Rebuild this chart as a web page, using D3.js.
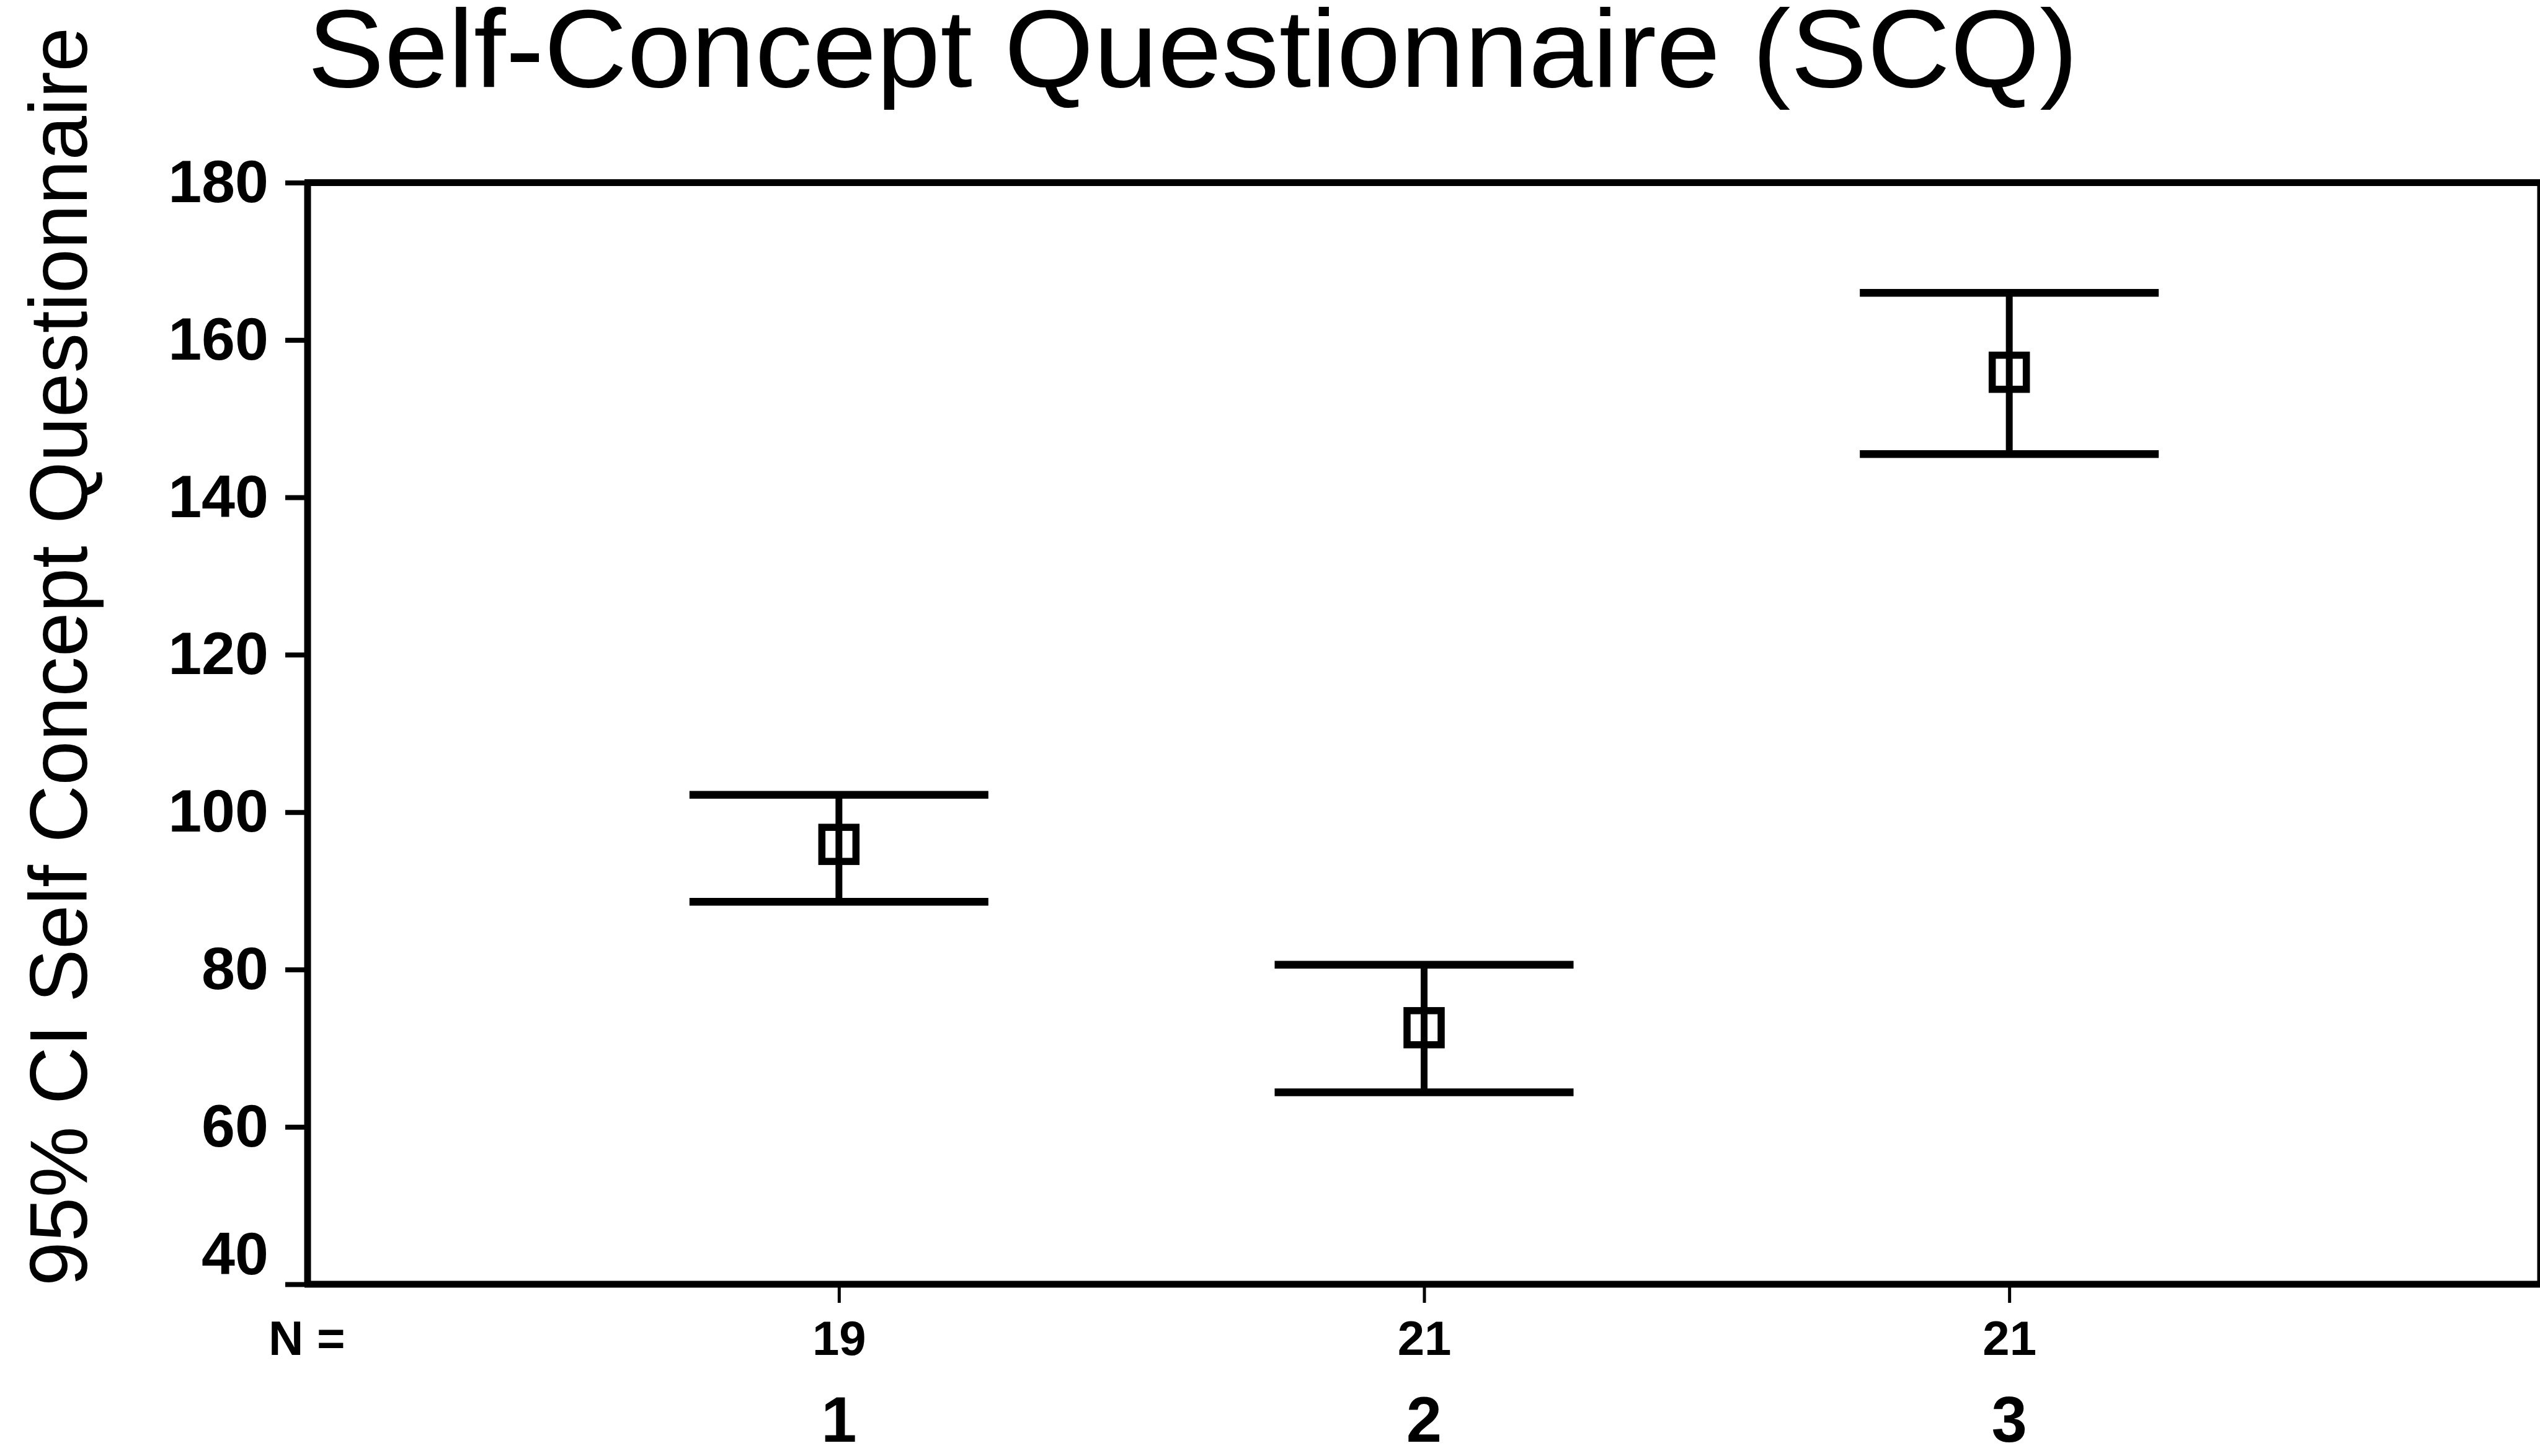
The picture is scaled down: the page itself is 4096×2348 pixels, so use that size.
<!DOCTYPE html>
<html>
<head>
<meta charset="utf-8">
<script src="https://cdn.jsdelivr.net/npm/d3@7"></script>
<style>
  html, body { margin: 0; padding: 0; background: #fff; }
  svg { display: block; }
  text { font-family: "Liberation Sans", Arial, sans-serif; fill: #000; }
</style>
</head>
<body>
<div id="chart"></div>
<script>
// values
const groups = ['1', '2', '3'];
const nCounts = [19, 21, 21];
const means = [95.9, 72.6, 155.9];
const lower = [88.6, 64.4, 145.5];
const upper = [102.2, 80.6, 166.0];
const yTicks = [40, 60, 80, 100, 120, 140, 160, 180];

const width = 4096;
const height = 2348;
const margin = {top: 294.5, right: 4097, bottom: 2071, left: 496};

const svg = d3.select('#chart')
  .append('svg')
    .attr('width', width)
    .attr('height', height);

const x = d3.scalePoint()
  .domain(groups)
  .range([margin.left, margin.right])
  .padding(0.908);

const y = d3.scaleLinear()
  .domain([40, 180])
  .range([margin.bottom, margin.top]);

// title
svg.append('text')
  .attr('x', margin.left)
  .attr('y', 140)
  .attr('font-size', 178)
  .attr('textLength', 2855)
  .attr('lengthAdjust', 'spacingAndGlyphs')
  .text('Self-Concept Questionnaire (SCQ)');

// y axis title
svg.append('text')
  .attr('transform', 'translate(140,1059) rotate(-90)')
  .attr('text-anchor', 'middle')
  .attr('font-size', 132)
  .attr('textLength', 2030)
  .attr('lengthAdjust', 'spacingAndGlyphs')
  .text('95% CI Self Concept Questionnaire');

// y axis
const yAxis = svg.append('g')
  .attr('transform', `translate(${margin.left},0)`)
  .call(d3.axisLeft(y).tickValues(yTicks).tickSize(36).tickPadding(27));
yAxis.select('.domain').remove();
yAxis.selectAll('.tick line').attr('stroke', '#000').attr('stroke-width', 8);
yAxis.selectAll('.tick text')
  .attr('font-size', 97)
  .attr('font-weight', 'bold')
  .attr('font-family', '"Liberation Sans", Arial, sans-serif')
  .attr('fill', '#000');
// lowest label sits above the bottom line
yAxis.selectAll('.tick text').filter(d => d === 40).attr('y', -48);

// x axis with N counts
const xAxis = svg.append('g')
  .attr('transform', `translate(0,${margin.bottom})`)
  .call(d3.axisBottom(x).tickSize(30).tickPadding(29).tickFormat((d, i) => nCounts[i]));
xAxis.select('.domain').remove();
xAxis.selectAll('.tick line').attr('stroke', '#000').attr('stroke-width', 5);
xAxis.selectAll('.tick text')
  .attr('font-size', 78)
  .attr('font-weight', 'bold')
  .attr('font-family', '"Liberation Sans", Arial, sans-serif')
  .attr('fill', '#000');

svg.append('text')
  .attr('x', 433)
  .attr('y', 2185)
  .attr('font-size', 78)
  .attr('font-weight', 'bold')
  .text('N =');

// group labels
svg.selectAll('.grp')
  .data(groups)
  .join('text')
    .attr('class', 'grp')
    .attr('x', d => x(d))
    .attr('y', 2325)
    .attr('text-anchor', 'middle')
    .attr('font-size', 103)
    .attr('font-weight', 'bold')
    .text(d => d);

// frame
const frame = svg.append('g').attr('stroke', '#000').attr('stroke-width', 11).attr('fill', 'none');
frame.append('line').attr('x1', margin.left - 5).attr('x2', margin.right).attr('y1', margin.top).attr('y2', margin.top);
frame.append('line').attr('x1', margin.left - 5).attr('x2', margin.right).attr('y1', margin.bottom).attr('y2', margin.bottom);
frame.append('line').attr('x1', margin.left).attr('x2', margin.left).attr('y1', margin.top).attr('y2', margin.bottom);
frame.append('line').attr('x1', margin.right).attr('x2', margin.right).attr('y1', margin.top).attr('y2', margin.bottom);

// error bars
const capHalf = 241;
const boxSide = 55;
const bars = svg.selectAll('.bar')
  .data(groups)
  .join('g')
    .attr('class', 'bar')
    .attr('stroke', '#000')
    .attr('fill', 'none');

bars.append('line')
  .attr('x1', d => x(d)).attr('x2', d => x(d))
  .attr('y1', (d, i) => y(lower[i])).attr('y2', (d, i) => y(upper[i]))
  .attr('stroke-width', 11);

bars.append('line')
  .attr('x1', d => x(d) - capHalf).attr('x2', d => x(d) + capHalf)
  .attr('y1', (d, i) => y(upper[i])).attr('y2', (d, i) => y(upper[i]))
  .attr('stroke-width', 12.5);

bars.append('line')
  .attr('x1', d => x(d) - capHalf).attr('x2', d => x(d) + capHalf)
  .attr('y1', (d, i) => y(lower[i])).attr('y2', (d, i) => y(lower[i]))
  .attr('stroke-width', 12.5);

bars.append('rect')
  .attr('x', d => x(d) - boxSide / 2)
  .attr('y', (d, i) => y(means[i]) - boxSide / 2)
  .attr('width', boxSide)
  .attr('height', boxSide)
  .attr('stroke-width', 11.5);
</script>
</body>
</html>
